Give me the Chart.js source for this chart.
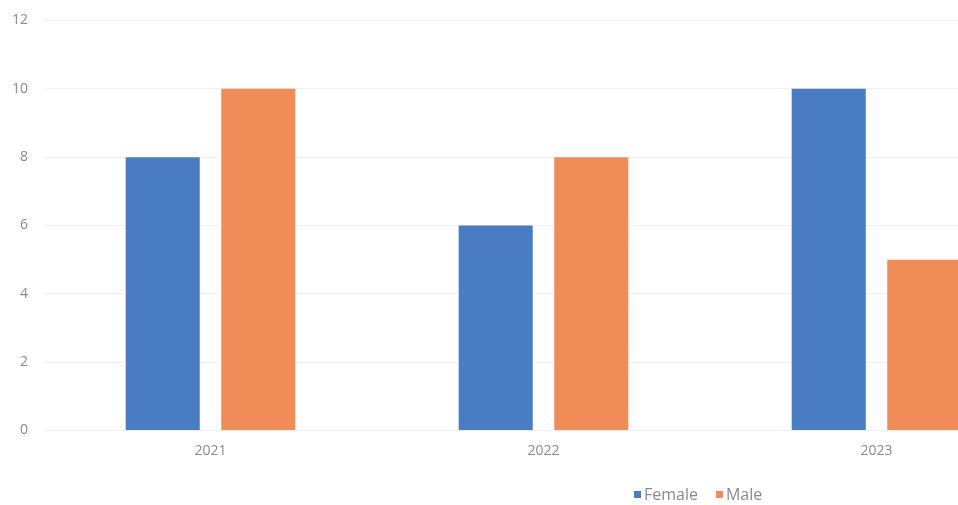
<!DOCTYPE html>
<html>
<head>
<meta charset="utf-8">
<script src="https://cdn.jsdelivr.net/npm/chart.js@4"></script>
<style>
  html, body { margin: 0; padding: 0; background: #fff; }
  #wrap { position: relative; width: 958px; height: 505px; overflow: hidden; }
  #legend {
    position: absolute; top: 483px; left: 634px;
    font-family: "Open Sans", sans-serif; font-size: 16px; color: #8a8a8a;
    white-space: nowrap;
  }
  #legend span.box { display: inline-block; width: 7px; height: 7px; margin-right: 3px; vertical-align: 2px; }
  #legend span.item { margin-right: 18px; }
</style>
</head>
<body>
<div id="wrap">
  <canvas id="myChart" width="1043" height="505"></canvas>
  <div id="legend"></div>
</div>
<script>
const years = ['2021', '2022', '2023'];
const female = [8, 6, 10];
const male = [10, 8, 5];
const yTicks = [0, 2, 4, 6, 8, 10, 12];

const blue = '#4a7cc4';
const orange = '#ef8c57';

document.addEventListener('DOMContentLoaded', function () {
    const ctx = document.getElementById('myChart').getContext('2d');
    const myChart = new Chart(ctx, {
        type: 'bar',
        data: {
            labels: years,
            datasets: [
                { label: 'Female', data: female, backgroundColor: blue },
                { label: 'Male', data: male, backgroundColor: orange }
            ]
        },
        options: {
            responsive: false,
            animation: false,
            categoryPercentage: 0.574,
            barPercentage: 0.775,
            layout: { padding: { top: 20.5, left: 0, right: 0, bottom: 0 } },
            plugins: {
                legend: { display: false },
                tooltip: { enabled: false }
            },
            scales: {
                x: {
                    grid: { display: false, drawTicks: false },
                    border: { display: false },
                    ticks: {
                        padding: 12,
                        color: '#8a8a8a',
                        font: { family: 'Open Sans', size: 14 }
                    },
                    afterFit: function (scale) { scale.height = 74.5; }
                },
                y: {
                    min: 0,
                    max: 12,
                    afterBuildTicks: function (scale) {
                        scale.ticks = yTicks.map(v => ({ value: v }));
                    },
                    grid: { color: '#f0f0f0', drawTicks: false },
                    border: { display: false },
                    ticks: {
                        padding: 16,
                        color: '#8a8a8a',
                        font: { family: 'Open Sans', size: 14 }
                    },
                    afterFit: function (scale) {
                        scale.width = 44;
                        // tick padding would otherwise push the plot top down
                        scale.paddingTop = 0;
                        scale.paddingBottom = 0;
                    }
                }
            }
        }
    });

    const legend = document.getElementById('legend');
    myChart.data.datasets.forEach(ds => {
        const item = document.createElement('span');
        item.className = 'item';
        item.innerHTML = '<span class="box" style="background:' + ds.backgroundColor + '"></span>' + ds.label;
        legend.appendChild(item);
    });
});
</script>
</body>
</html>
